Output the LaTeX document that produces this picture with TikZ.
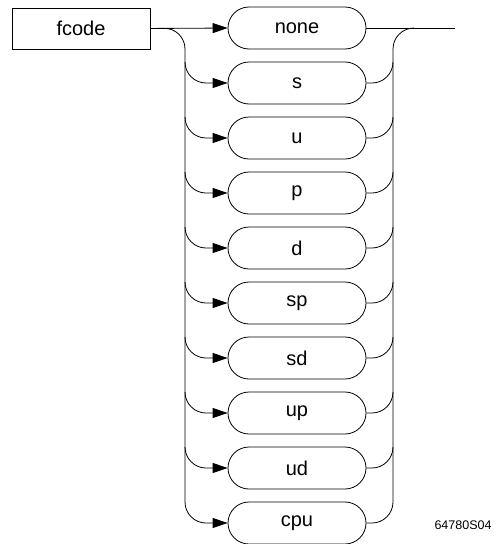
\documentclass[tikz,border=0pt]{standalone}
\usepackage{fontspec}
\setmainfont{Liberation Sans}
\usepackage{tikz}
\usetikzlibrary{
  shapes.misc,
  arrows.meta,
  positioning
}
\definecolor{linecolor}{RGB}{0, 0, 0}
\tikzset{
keybox/.style={
  draw=linecolor,
  line width=0.8pt,
  minimum height=41pt,
  minimum width=138pt,
  font=\fontsize{20}{22}\selectfont
},
optpill/.style={
  draw=linecolor,
  rounded rectangle,
  line width=0.8pt,
  minimum height=42pt,
  minimum width=138pt,
  inner sep=0pt,
  font=\fontsize{20}{22}\selectfont
},
rail/.style={
  line width=0.8pt,
  draw=linecolor,
  rounded corners=21pt
},
arrow/.style={
  rail,
  -{Triangle[length=15pt,width=10pt]}
},
figlabel/.style={
  font=\fontsize{12.5}{14}\selectfont
}
}

\begin{document}
\begin{tikzpicture}[x=1pt, y=-1pt]
      \useasboundingbox (0,0) rectangle (499,544);

      % Keyword
      \node[keybox] (fcode) at (81,28.5) {fcode};

      % Options
      \foreach \name [count=\i] in {none,s,u,p,d,sp,sd,up,ud,cpu}
        \node[optpill] (opt\i) at (297,{28+55*(\i-1)}) {\name};

      % Rail corners
      \coordinate (ltop) at (185,28);
      \coordinate (rtop) at (393,28);
      \coordinate (rjoin) at (414,28);
      \coordinate (exit) at (455,28);

      % Left branches
      \draw[arrow] (fcode.east) -- (opt1.west);
      \draw[arrow] (fcode.east) -- (ltop) |- (opt10.west);
      \foreach \i in {2,...,9}{
        \coordinate (lsplit\i) at (185,{7+55*(\i-1)});
        \draw[arrow] (lsplit\i) |- (opt\i.west);
      }

      % Right branches
      \draw[rail] (opt1.east) -- (exit);
      \draw[rail] (opt10.east) -| (rtop) -- (rjoin);
      \foreach \i in {2,...,9}{
        \coordinate (rsplit\i) at (393,{7+55*(\i-1)});
        \draw[rail] (opt\i.east) -| (rsplit\i);
      }

      % Figure number
      \node[figlabel] (fignum) at (463,525) {64780S04};
    \end{tikzpicture}
\end{document}
